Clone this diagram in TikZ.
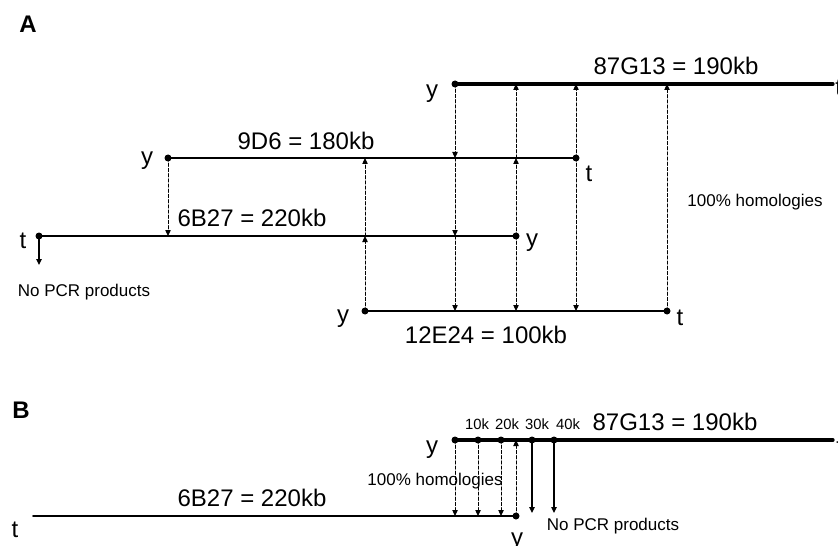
\documentclass[tikz,border=0pt]{standalone}
\usepackage{fontspec}
\setmainfont{Liberation Sans}
\usepackage{tikz}
\usetikzlibrary{arrows.meta}
\tikzset{
  every picture/.append style={line cap=round,line join=round},
  map clone/.style={line width=0.85pt},
  map long clone/.style={line width=1.6pt},
  map homology/.style={line width=0.5pt,dash pattern=on 1.6pt off 1pt,-{Triangle[length=3pt,width=2.7pt]}},
  map fail/.style={line width=0.6pt,-{Triangle[length=3pt,width=2.7pt]}},
  map name/.style={font=\fontsize{12}{14}\selectfont,inner sep=0pt,anchor=base},
  map end/.style={font=\fontsize{12}{14}\selectfont,inner sep=0pt,anchor=base},
  map note/.style={font=\fontsize{8.5}{10}\selectfont,inner sep=0pt,anchor=base},
  map tick/.style={font=\fontsize{7.4}{9}\selectfont,inner sep=0pt,anchor=base},
  map panel/.style={font=\bfseries\fontsize{12}{14}\selectfont,inner sep=0pt}
}

\begin{document}
\begin{tikzpicture}[x=0.5pt, y=-0.5pt]
  \clip (0,0) rectangle (838,545);
  \useasboundingbox (0,0) rectangle (838,545);

  % panel A
  \node[map panel] (pa) at (28,24) {A};
  \coordinate (a87y) at (455,84);
  \coordinate (a87t) at (833,84);
  \coordinate (a9y) at (168,158);
  \coordinate (a9t) at (576,158);
  \coordinate (a6t) at (39,236);
  \coordinate (a6y) at (516,236);
  \coordinate (a12y) at (365,311);
  \coordinate (a12t) at (667,311);
  \coordinate (a6stop) at (39,265);

  \draw[map long clone] (a87y) -- (a87t);
  \draw[map clone] (a9y) -- (a9t);
  \draw[map clone] (a6t) -- (a6y);
  \draw[map clone] (a12y) -- (a12t);
  \foreach \p in {a87y,a9y,a9t,a6t,a6y,a12y,a12t}
    \fill (\p) circle[radius=1.75pt];

  \draw[map homology] (a9y) -- (a9y |- a6t);
  \draw[map homology] (a12y) -- (a12y |- a6t);
  \draw[map homology] (a12y |- a6t) -- (a12y |- a9y);
  \draw[map homology] (a87y) -- (a87y |- a9y);
  \draw[map homology] (a87y |- a9y) -- (a87y |- a6t);
  \draw[map homology] (a87y |- a6t) -- (a87y |- a12y);
  \draw[map homology] (a6y) -- (a6y |- a9y);
  \draw[map homology] (a6y |- a9y) -- (a6y |- a87y);
  \draw[map homology] (a6y) -- (a6y |- a12y);
  \draw[map homology] (a9t) -- (a9t |- a87y);
  \draw[map homology] (a9t) -- (a9t |- a12y);
  \draw[map homology] (a12t) -- (a12t |- a87y);
  \draw[map fail] (a6t) -- (a6stop);

  \node[map name] (a87name) at (676,75) {87G13 = 190kb};
  \node[map name] (a9name) at (306,149) {9D6 = 180kb};
  \node[map name] (a6name) at (252,226) {6B27 = 220kb};
  \node[map name] (a12name) at (486,343) {12E24 = 100kb};
  \node[map end] (a87ly) at (432,98) {y};
  \node[map end, anchor=base west] (a87lt) at (835,96) {t};
  \node[map end] (a9ly) at (147,164) {y};
  \node[map end] (a9lt) at (589,181) {t};
  \node[map end] (a6lt) at (23,248) {t};
  \node[map end] (a6ly) at (532,246) {y};
  \node[map end] (a12ly) at (343,322) {y};
  \node[map end] (a12lt) at (680,325) {t};
  \node[map note] (anone) at (84,296) {No PCR products};
  \node[map note] (ahom) at (755,206) {100\% homologies};

  % panel B
  \node[map panel] (pb) at (21,410) {B};
  \coordinate (b87y) at (455,440);
  \coordinate (b87t) at (833,440);
  \coordinate (b10) at (478,440);
  \coordinate (b20) at (501,440);
  \coordinate (b30) at (532,440);
  \coordinate (b40) at (554,440);
  \coordinate (b6t) at (33,516);
  \coordinate (b6y) at (516,516);
  \coordinate (b30stop) at (532,513);
  \coordinate (b40stop) at (554,513);

  \draw[map long clone] (b87y) -- (b87t);
  \draw[map clone] (b6t) -- (b6y);
  \foreach \p in {b87y,b10,b20,b30,b40,b6y}
    \fill (\p) circle[radius=1.75pt];

  \foreach \p in {b87y,b10,b20}
    \draw[map homology] (\p) -- (\p |- b6t);
  \draw[map homology] (b6y) -- (b6y |- b87y);
  \draw[map fail] (b30) -- (b30stop);
  \draw[map fail] (b40) -- (b40stop);

  \foreach \k/\x in {10/477,20/507,30/537,40/568}
    \node[map tick] (b\k k) at (\x,429) {\k k};
  \node[map name] (b87name) at (675,430) {87G13 = 190kb};
  \node[map name] (b6name) at (252,506) {6B27 = 220kb};
  \node[map end] (b87ly) at (432,453) {y};
  \node[map end, anchor=base west] (b87lt) at (836,454) {t};
  \node[map end] (b6lt) at (15,537) {t};
  \node[map end] (b6ly) at (517,545) {y};
  \node[map note] (bhom) at (435,485) {100\% homologies};
  \node[map note] (bnone) at (613,530) {No PCR products};
\end{tikzpicture}
\end{document}
